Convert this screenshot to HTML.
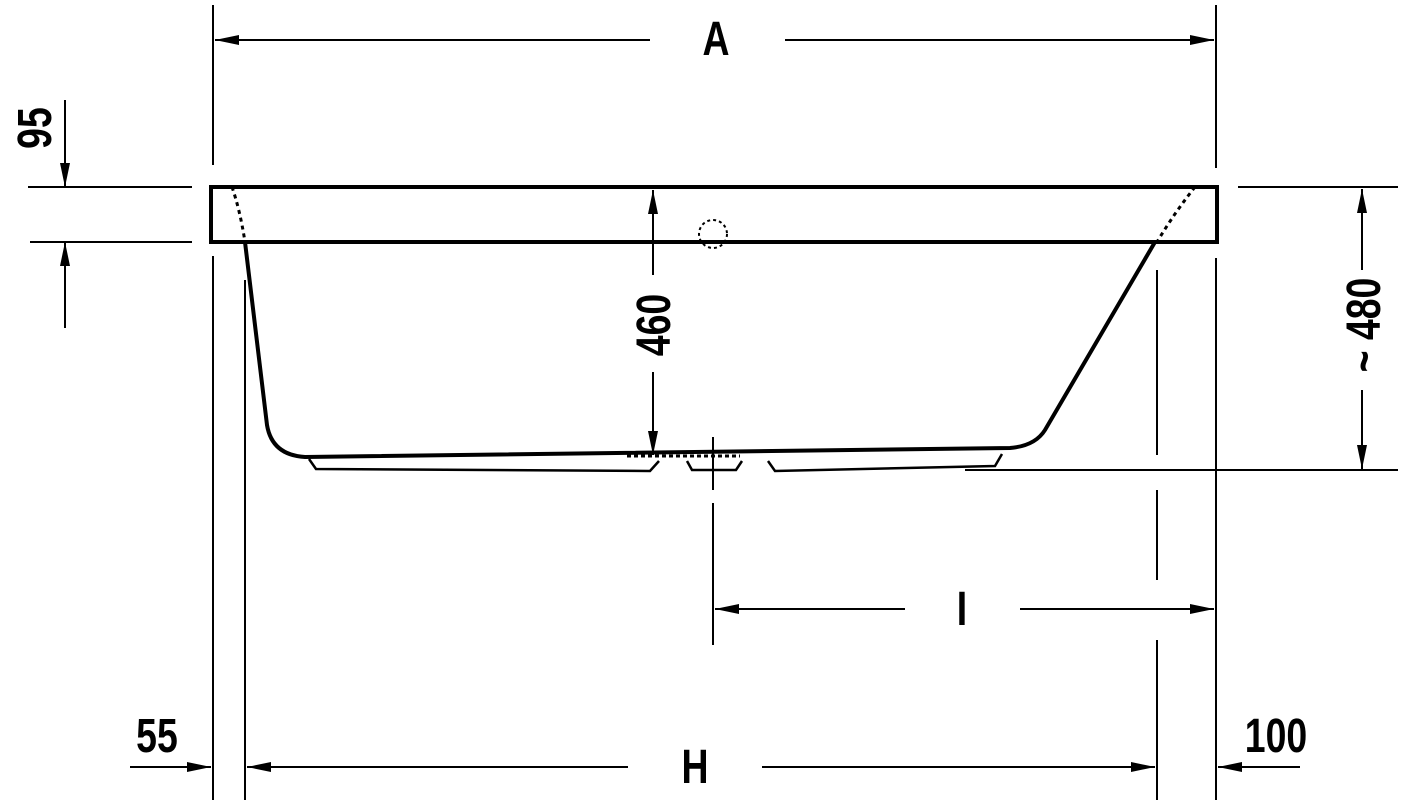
<!DOCTYPE html>
<html><head><meta charset="utf-8"><style>html,body{margin:0;padding:0;background:#fff}svg{display:block}text{font-family:"Liberation Sans",sans-serif;font-weight:bold;font-size:48px;fill:#000}</style></head>
<body>
<svg width="1404" height="804" viewBox="0 0 1404 804" xmlns="http://www.w3.org/2000/svg">
<defs>
<marker id="ar" viewBox="0 0 24 10" refX="24" refY="5" markerWidth="24" markerHeight="10" markerUnits="userSpaceOnUse" orient="auto"><path d="M0,0 L24,5 L0,10 Z" fill="#000"/></marker>
</defs>
<g stroke="#000" stroke-width="2" fill="none">
<line x1="213" y1="5" x2="213" y2="165"/>
<line x1="213" y1="256" x2="213" y2="800"/>
<line x1="1216" y1="5" x2="1216" y2="168"/>
<line x1="1216" y1="258" x2="1216" y2="800"/>
<line x1="245" y1="280" x2="245" y2="800"/>
<line x1="1157" y1="270" x2="1157" y2="455"/>
<line x1="1157" y1="490" x2="1157" y2="580"/>
<line x1="1157" y1="640" x2="1157" y2="800"/>
<line x1="713" y1="437" x2="713" y2="490"/>
<line x1="713" y1="503" x2="713" y2="645"/>
<line x1="28" y1="187" x2="192" y2="187"/>
<line x1="30" y1="242" x2="192" y2="242"/>
<line x1="1238" y1="187" x2="1398" y2="187"/>
<line x1="965" y1="470" x2="1398" y2="470"/>
<line x1="65" y1="100" x2="65" y2="187" marker-end="url(#ar)"/>
<line x1="65" y1="328" x2="65" y2="242" marker-end="url(#ar)"/>
<line x1="650" y1="40" x2="215" y2="40" marker-end="url(#ar)"/>
<line x1="785" y1="40" x2="1214" y2="40" marker-end="url(#ar)"/>
<line x1="905" y1="609" x2="715" y2="609" marker-end="url(#ar)"/>
<line x1="1020" y1="609" x2="1214" y2="609" marker-end="url(#ar)"/>
<line x1="628" y1="767" x2="247" y2="767" marker-end="url(#ar)"/>
<line x1="762" y1="767" x2="1155" y2="767" marker-end="url(#ar)"/>
<line x1="130" y1="767" x2="211" y2="767" marker-end="url(#ar)"/>
<line x1="1300" y1="767" x2="1218" y2="767" marker-end="url(#ar)"/>
<line x1="653" y1="275" x2="653" y2="190" marker-end="url(#ar)"/>
<line x1="653" y1="372" x2="653" y2="455" marker-end="url(#ar)"/>
<line x1="1362" y1="270" x2="1362" y2="189" marker-end="url(#ar)"/>
<line x1="1362" y1="390" x2="1362" y2="469" marker-end="url(#ar)"/>
<rect x="211" y="187" width="1006" height="55" stroke-width="4"/>
<path d="M245,242 L267,425 Q272,455 305,457 L1010,448 Q1035,446 1045,430 L1155,242" stroke-width="4"/>
<path d="M232,187 Q240,210 245,242" stroke-dasharray="4,4" stroke-width="3"/>
<path d="M1195,187 Q1175,212 1157,242" stroke-dasharray="4,4" stroke-width="3"/>
<circle cx="713" cy="234" r="14" stroke-dasharray="3,3"/>
<line x1="627" y1="456" x2="740" y2="456" stroke-dasharray="4,3" stroke-width="3"/>
<path d="M309,459 L316,469 L650,471 L659,461 M687,461 L692,470 L736,470 L742,461 M768,461 L775,471 L995,466 L1002,454" stroke-width="2.5"/>
</g>
<text transform="translate(716,55) scale(0.78,1)" text-anchor="middle">A</text>
<text transform="translate(962,625) scale(0.78,1)" text-anchor="middle">I</text>
<text transform="translate(695,783) scale(0.78,1)" text-anchor="middle">H</text>
<text transform="translate(157,752) scale(0.78,1)" text-anchor="middle">55</text>
<text transform="translate(1276,752) scale(0.78,1)" text-anchor="middle">100</text>
<text transform="translate(51,128) rotate(-90) scale(0.78,1)" text-anchor="middle">95</text>
<text transform="translate(670,325) rotate(-90) scale(0.78,1)" text-anchor="middle">460</text>
<text transform="translate(1380,325) rotate(-90) scale(0.78,1)" text-anchor="middle">~ 480</text>
</svg>
</body></html>
